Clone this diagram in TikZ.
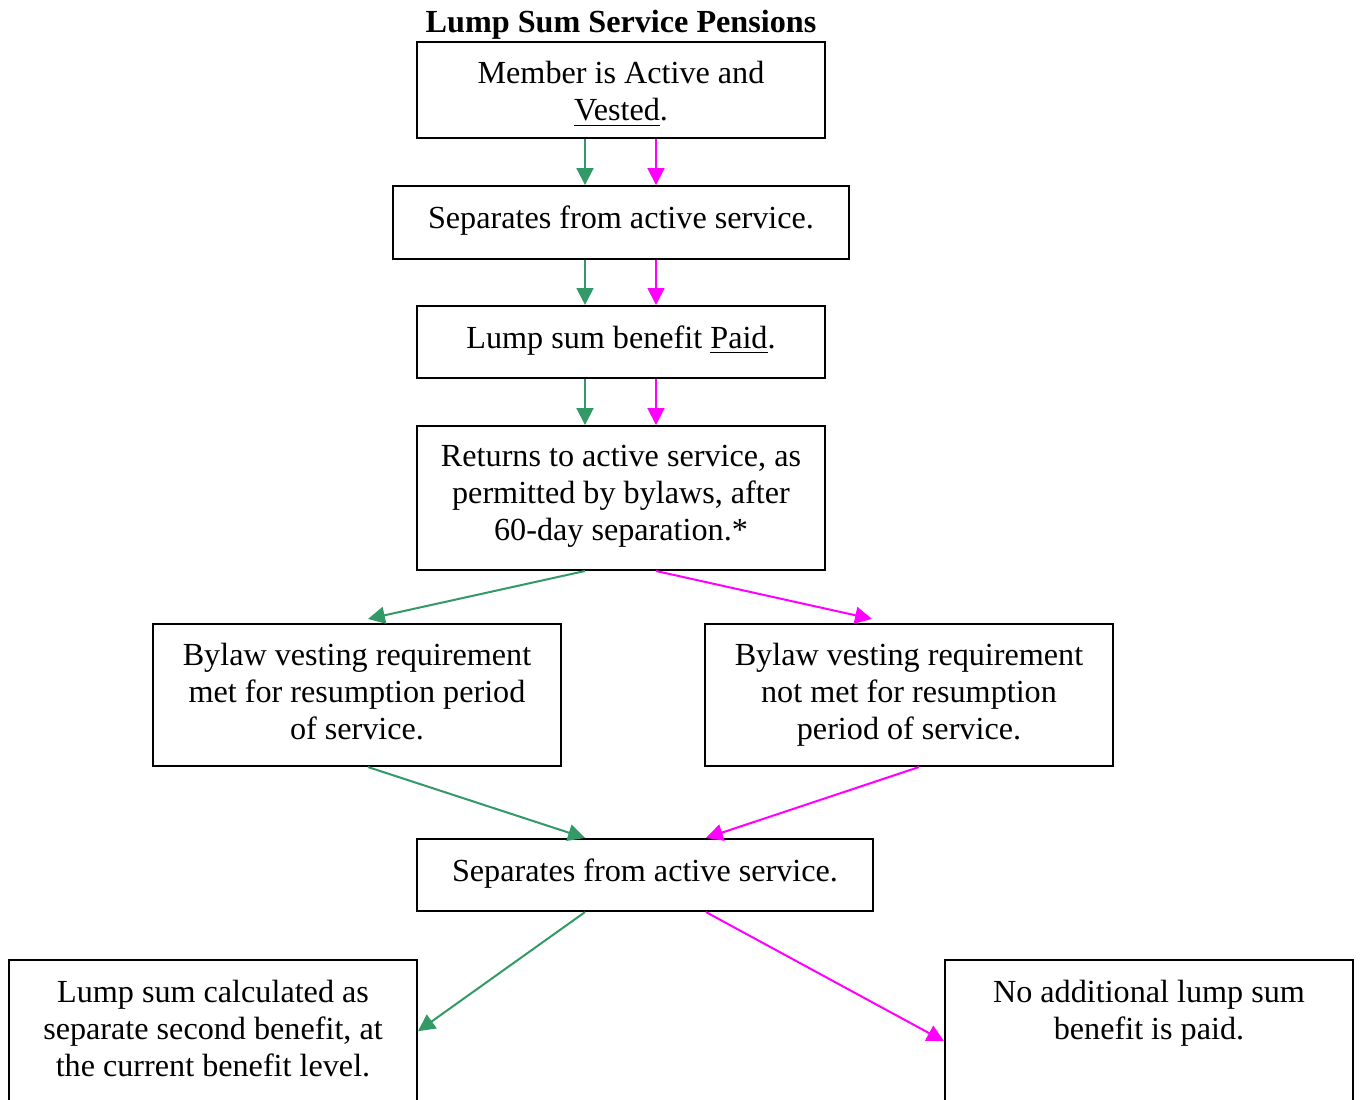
\documentclass[tikz,border=0pt]{standalone}
\usepackage{fontspec}
\setmainfont{Liberation Serif}
\usetikzlibrary{arrows.meta}
\definecolor{yesgreen}{RGB}{51,153,102}
\definecolor{nomagenta}{RGB}{255,0,255}

\begin{document}
\begin{tikzpicture}[x=0.373pt, y=-0.373pt,
    font=\fontsize{12}{13.8}\selectfont,
    box/.style={draw, line width=0.75pt, minimum width=152.2pt},
    widebox/.style={box, minimum width=170.1pt},
    txt/.style={anchor=north, align=center, inner sep=0pt, yshift=-7.5pt},
    greenarrow/.style={draw=yesgreen, line width=0.75pt, -{Triangle[length=6.3pt,width=6.3pt]}},
    pinkarrow/.style={draw=nomagenta, line width=0.75pt, -{Triangle[length=6.3pt,width=6.3pt]}}]
  \useasboundingbox (0,0) rectangle (1360,1099);
  \clip (0,0) rectangle (1360,1099);

  \node[anchor=base, font=\fontsize{12}{13.8}\selectfont\bfseries] (title) at (621,32) {Lump Sum Service Pensions};

  % boxes
  \node[box, minimum height=35.8pt] (member) at (621,90) {};
  \node[txt] (member-t) at (member.north) {Member is Active and\\\underline{Vested}.};
  \node[widebox, minimum height=27.2pt] (sep1) at (621,222.5) {};
  \node[txt] (sep1-t) at (sep1.north) {Separates from active service.};
  \node[box, minimum height=26.9pt] (paid) at (621,342) {};
  \node[txt] (paid-t) at (paid.north) {Lump sum benefit \underline{Paid}.};
  \node[box, minimum height=53.7pt] (returns) at (621,498) {};
  \node[txt] (returns-t) at (returns.north) {Returns to active service, as\\permitted by bylaws, after\\60-day separation.*};
  \node[box, minimum height=53pt] (met) at (357,695) {};
  \node[txt] (met-t) at (met.north) {Bylaw vesting requirement\\met for resumption period\\of service.};
  \node[box, minimum height=53pt] (notmet) at (909,695) {};
  \node[txt] (notmet-t) at (notmet.north) {Bylaw vesting requirement\\not met for resumption\\period of service.};
  \node[widebox, minimum height=26.9pt] (sep2) at (645,875) {};
  \node[txt] (sep2-t) at (sep2.north) {Separates from active service.};
  \node[box, minimum height=67pt] (calc) at (213,1050) {};
  \node[txt] (calc-t) at (calc.north) {Lump sum calculated as\\separate second benefit, at\\the current benefit level.};
  \node[box, minimum height=67pt] (none) at (1149,1050) {};
  \node[txt] (none-t) at (none.north) {No additional lump sum\\benefit is paid.};

  % arrows
  \coordinate (gx) at (585,0);
  \coordinate (mx) at (656,0);
  \draw[greenarrow] (member.south -| gx) -- (sep1.north -| gx);
  \draw[pinkarrow] (member.south -| mx) -- (sep1.north -| mx);
  \draw[greenarrow] (sep1.south -| gx) -- (paid.north -| gx);
  \draw[pinkarrow] (sep1.south -| mx) -- (paid.north -| mx);
  \draw[greenarrow] (paid.south -| gx) -- (returns.north -| gx);
  \draw[pinkarrow] (paid.south -| mx) -- (returns.north -| mx);
  \draw[greenarrow] (returns.south -| gx) -- ([shift={(11,-4)}]met.north);
  \draw[pinkarrow] (returns.south -| mx) -- ([shift={(-37,-4)}]notmet.north);
  \draw[greenarrow] ([shift={(11,0)}]met.south) -- (sep2.north -| gx);
  \draw[pinkarrow] ([shift={(10,0)}]notmet.south) -- ([shift={(61,0)}]sep2.north);
  \draw[greenarrow] (sep2.south -| gx) -- ([shift={(0,72)}]calc.north east);
  \draw[pinkarrow] ([shift={(61,0)}]sep2.south) -- ([shift={(0,82)}]none.north west);
\end{tikzpicture}
\end{document}
